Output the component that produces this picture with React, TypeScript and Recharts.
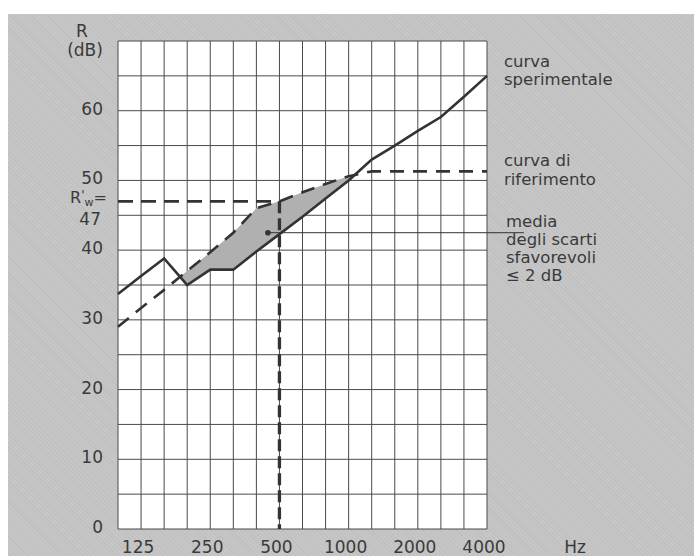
import React from "react";
import {
  ComposedChart,
  Line,
  Area,
  XAxis,
  YAxis,
  CartesianGrid,
  ReferenceLine,
  ReferenceDot,
} from "recharts";

// Third-octave bands (one per vertical grid line)
const freqBands = ["100", "125", "160", "200", "250", "315", "400", "500", "630", "800", "1000", "1250", "1600", "2000", "2500", "3150", "4000"];
// Measured curve "curva sperimentale" (dB)
const experimental = [33.7, 36.3, 38.8, 35.0, 37.2, 37.2, 39.8, 42.3, 44.8, 47.4, 50.0, 53.0, 55.0, 57.1, 59.1, 62.0, 65.0];
// Shifted reference curve "curva di riferimento" (dB)
const reference = [29.0, 31.7, 34.3, 37.0, 39.7, 42.5, 46.0, 47.0, 48.3, 49.5, 50.6, 51.3, 51.3, 51.3, 51.3, 51.3, 51.3];
// Labelled frequencies on the x axis
const xTickLabels = ["125", "250", "500", "1000", "2000", "4000"];
// Y axis labels
const yTickLabels = [0, 10, 20, 30, 40, 50, 60];
const yGridValues = [0, 5, 10, 15, 20, 25, 30, 35, 40, 45, 50, 55, 60, 65, 70];
// Weighted index
const ratedValue = 47;
const ratedBand = "500";
// Mean unfavourable deviation marker
const meanMarker = { band: 6.5, value: 42.5, labelBand: 17.6 };

const INK = "#333333";
const TEXT = "#3a3a3a";
const FONT = "'DejaVu Sans', sans-serif";

const ratedIdx = freqBands.indexOf(ratedBand);

// Build rows, inserting the crossing points of the two curves so that the
// shaded band (unfavourable deviations) starts and ends exactly where they cross.
type Row = { x: number; exp: number; ref: number; band: [number, number] };
const rows: Row[] = [];
const mkRow = (x: number, e: number, r: number): Row => ({
  x,
  exp: e,
  ref: r,
  band: e < r ? [e, r] : [r, r],
});
for (let i = 0; i < freqBands.length; i++) {
  rows.push(mkRow(i, experimental[i], reference[i]));
  if (i < freqBands.length - 1) {
    const d0 = reference[i] - experimental[i];
    const d1 = reference[i + 1] - experimental[i + 1];
    if ((d0 > 0 && d1 < 0) || (d0 < 0 && d1 > 0)) {
      const t = d0 / (d0 - d1);
      const e = experimental[i] + t * (experimental[i + 1] - experimental[i]);
      rows.push(mkRow(i + t, e, e));
    }
  }
}

const xTicks = freqBands.map((_, i) => i);

const XTick = (props: any) => {
  const { x, payload } = props;
  const label = freqBands[payload.value];
  if (!xTickLabels.includes(label)) return <g />;
  return (
    <text x={x - 3} y={553} textAnchor="middle" fontSize={17} fill={TEXT} fontFamily={FONT}>
      {label}
    </text>
  );
};

const YTick = (props: any) => {
  const { y, payload } = props;
  if (!yTickLabels.includes(payload.value)) return <g />;
  return (
    <text x={103} y={y + 4} textAnchor="end" fontSize={17} fill={TEXT} fontFamily={FONT}>
      {payload.value}
    </text>
  );
};

export default function App() {
  return (
    <div style={{ position: "absolute", left: 0, top: 0, width: 694, height: 556, background: "#ffffff", overflow: "hidden" }}>
      <div
        style={{
          position: "absolute",
          left: 8,
          top: 14,
          right: 0,
          bottom: 0,
          background: "repeating-linear-gradient(45deg, #c6c6c6 0px, #c6c6c6 2px, #bfbfbf 2px, #bfbfbf 3px)",
        }}
      />
      <div style={{ position: "absolute", left: 0, top: 0 }}>
        <ComposedChart
          width={694}
          height={556}
          data={rows}
          margin={{ top: 41, right: 207, bottom: 0, left: 0 }}
        >
          <CartesianGrid stroke="#4a4a4a" strokeWidth={1} fill="#ffffff" fillOpacity={1} />
          <XAxis
            dataKey="x"
            type="number"
            domain={[0, 16]}
            ticks={xTicks}
            interval={0}
            height={27}
            axisLine={false}
            tickLine={false}
            tick={<XTick />}
          />
          <YAxis
            type="number"
            domain={[0, 70]}
            ticks={yGridValues}
            interval={0}
            width={118}
            axisLine={false}
            tickLine={false}
            tick={<YTick />}
          />
          <Area
            dataKey="band"
            type="linear"
            stroke="none"
            fill="#b0b0b0"
            fillOpacity={1}
            isAnimationActive={false}
            dot={false}
            activeDot={false}
          />
          <Line
            dataKey="ref"
            type="linear"
            stroke={INK}
            strokeWidth={2.6}
            strokeDasharray="14 9"
            dot={false}
            activeDot={false}
            isAnimationActive={false}
          />
          <Line
            dataKey="exp"
            type="linear"
            stroke={INK}
            strokeWidth={2.6}
            dot={false}
            activeDot={false}
            isAnimationActive={false}
          />
          <ReferenceLine
            segment={[
              { x: 0, y: ratedValue },
              { x: ratedIdx, y: ratedValue },
            ]}
            stroke={INK}
            strokeWidth={2.6}
            strokeDasharray="15 8"
          />
          <ReferenceLine
            segment={[
              { x: ratedIdx, y: ratedValue },
              { x: ratedIdx, y: 0 },
            ]}
            stroke={INK}
            strokeWidth={3.3}
            strokeDasharray="12 5"
          />
          <ReferenceLine
            segment={[
              { x: meanMarker.band, y: meanMarker.value },
              { x: meanMarker.labelBand, y: meanMarker.value },
            ]}
            stroke={INK}
            strokeWidth={1}
            ifOverflow="visible"
          />
          <ReferenceDot
            x={meanMarker.band}
            y={meanMarker.value}
            r={2.8}
            fill={INK}
            stroke="none"
          />
        </ComposedChart>
      </div>
      <svg
        width={694}
        height={556}
        style={{ position: "absolute", left: 0, top: 0, pointerEvents: "none" }}
        fontFamily={FONT}
        fill={TEXT}
      >
        <text x={82} y={37} textAnchor="middle" fontSize={17}>R</text>
        <text x={85} y={56} textAnchor="middle" fontSize={17}>(dB)</text>
        <text x={70} y={203} fontSize={16}>
          R<tspan fontSize={12} dy={-4}>'</tspan>
          <tspan fontSize={11} dy={7}>w</tspan>
          <tspan dy={-3}>=</tspan>
        </text>
        <text x={101} y={225} textAnchor="end" fontSize={17}>47</text>
        <text x={575} y={553} textAnchor="middle" fontSize={17}>Hz</text>
        <text x={504} y={67} fontSize={16.5}>curva</text>
        <text x={504} y={85} fontSize={16.5}>sperimentale</text>
        <text x={504} y={166} fontSize={16.5}>curva di</text>
        <text x={504} y={185} fontSize={16.5}>riferimento</text>
        <text x={506} y={227} fontSize={16.5}>media</text>
        <text x={506} y={245} fontSize={16.5}>degli scarti</text>
        <text x={506} y={263} fontSize={16.5}>sfavorevoli</text>
        <text x={506} y={281} fontSize={16.5}>≤ 2 dB</text>
      </svg>
    </div>
  );
}
